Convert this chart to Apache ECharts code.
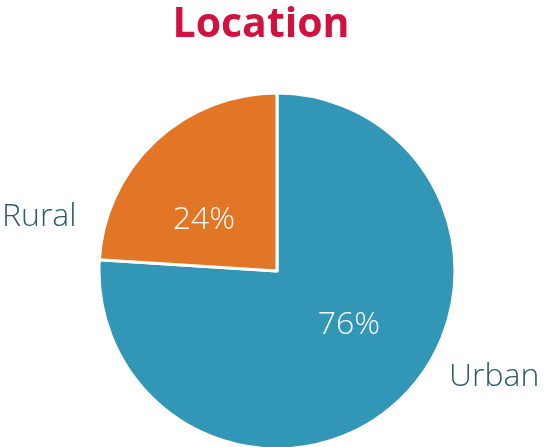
<!DOCTYPE html>
<html>
<head>
<meta charset="utf-8">
<script src="https://cdn.jsdelivr.net/npm/echarts@6/dist/echarts.min.js"></script>
<style>
  html, body { margin: 0; padding: 0; background: #fff; }
  #chart { width: 544px; height: 447px; }
</style>
</head>
<body>
<div id="chart"></div>
<script>
// pie chart: share of respondents by location
const titleText = 'Location';
const categories = ['Urban', 'Rural'];
const values = [76, 24];
const colors = ['#3296B6', '#E37526'];

const myChart = echarts.init(document.getElementById('chart'));

const data = categories.map((name, i) => ({
  name: name,
  value: values[i],
  itemStyle: { color: colors[i] }
}));

// where the category names sit (outside the pie)
const nameSpots = [
  { x: 449, y: 377, align: 'left' },
  { x: 2, y: 217, align: 'left' }
];

const option = {
  animation: false,
  title: {
    text: titleText,
    left: 256,
    top: 0,
    textAlign: 'center',
    textStyle: {
      fontFamily: 'Open Sans',
      fontWeight: 'bold',
      fontSize: 41,
      color: '#D0123E'
    }
  },
  series: [
    {
      type: 'pie',
      center: [277, 271],
      radius: 178,
      startAngle: 90,
      clockwise: true,
      data: data,
      itemStyle: { borderColor: '#fff', borderWidth: 3 },
      label: {
        show: true,
        position: 'inside',
        formatter: '{d}%',
        color: '#fff',
        fontFamily: 'Open Sans',
        fontWeight: 300,
        fontSize: 32
      },
      labelLayout: function (params) {
        const spots = [{ x: 349, y: 325 }, { x: 204, y: 220 }];
        return { x: spots[params.dataIndex].x, y: spots[params.dataIndex].y, align: 'center', verticalAlign: 'middle' };
      },
      emphasis: { disabled: true }
    },
    {
      type: 'pie',
      center: [277, 271],
      radius: 178,
      startAngle: 90,
      clockwise: true,
      silent: true,
      data: data.map(d => ({ name: d.name, value: d.value })),
      itemStyle: { color: 'rgba(0,0,0,0)' },
      label: {
        show: true,
        position: 'outside',
        formatter: '{b}',
        overflow: 'none',
        width: 200,
        color: '#2C5B6B',
        fontFamily: 'Open Sans',
        fontWeight: 300,
        fontSize: 32
      },
      labelLine: { show: false },
      labelLayout: function (params) {
        const s = nameSpots[params.dataIndex];
        return { x: s.x, y: s.y, align: s.align, verticalAlign: 'middle' };
      },
      emphasis: { disabled: true }
    }
  ]
};

option && myChart.setOption(option);
window.onresize = () => {
  myChart.resize();
};
</script>
</body>
</html>
